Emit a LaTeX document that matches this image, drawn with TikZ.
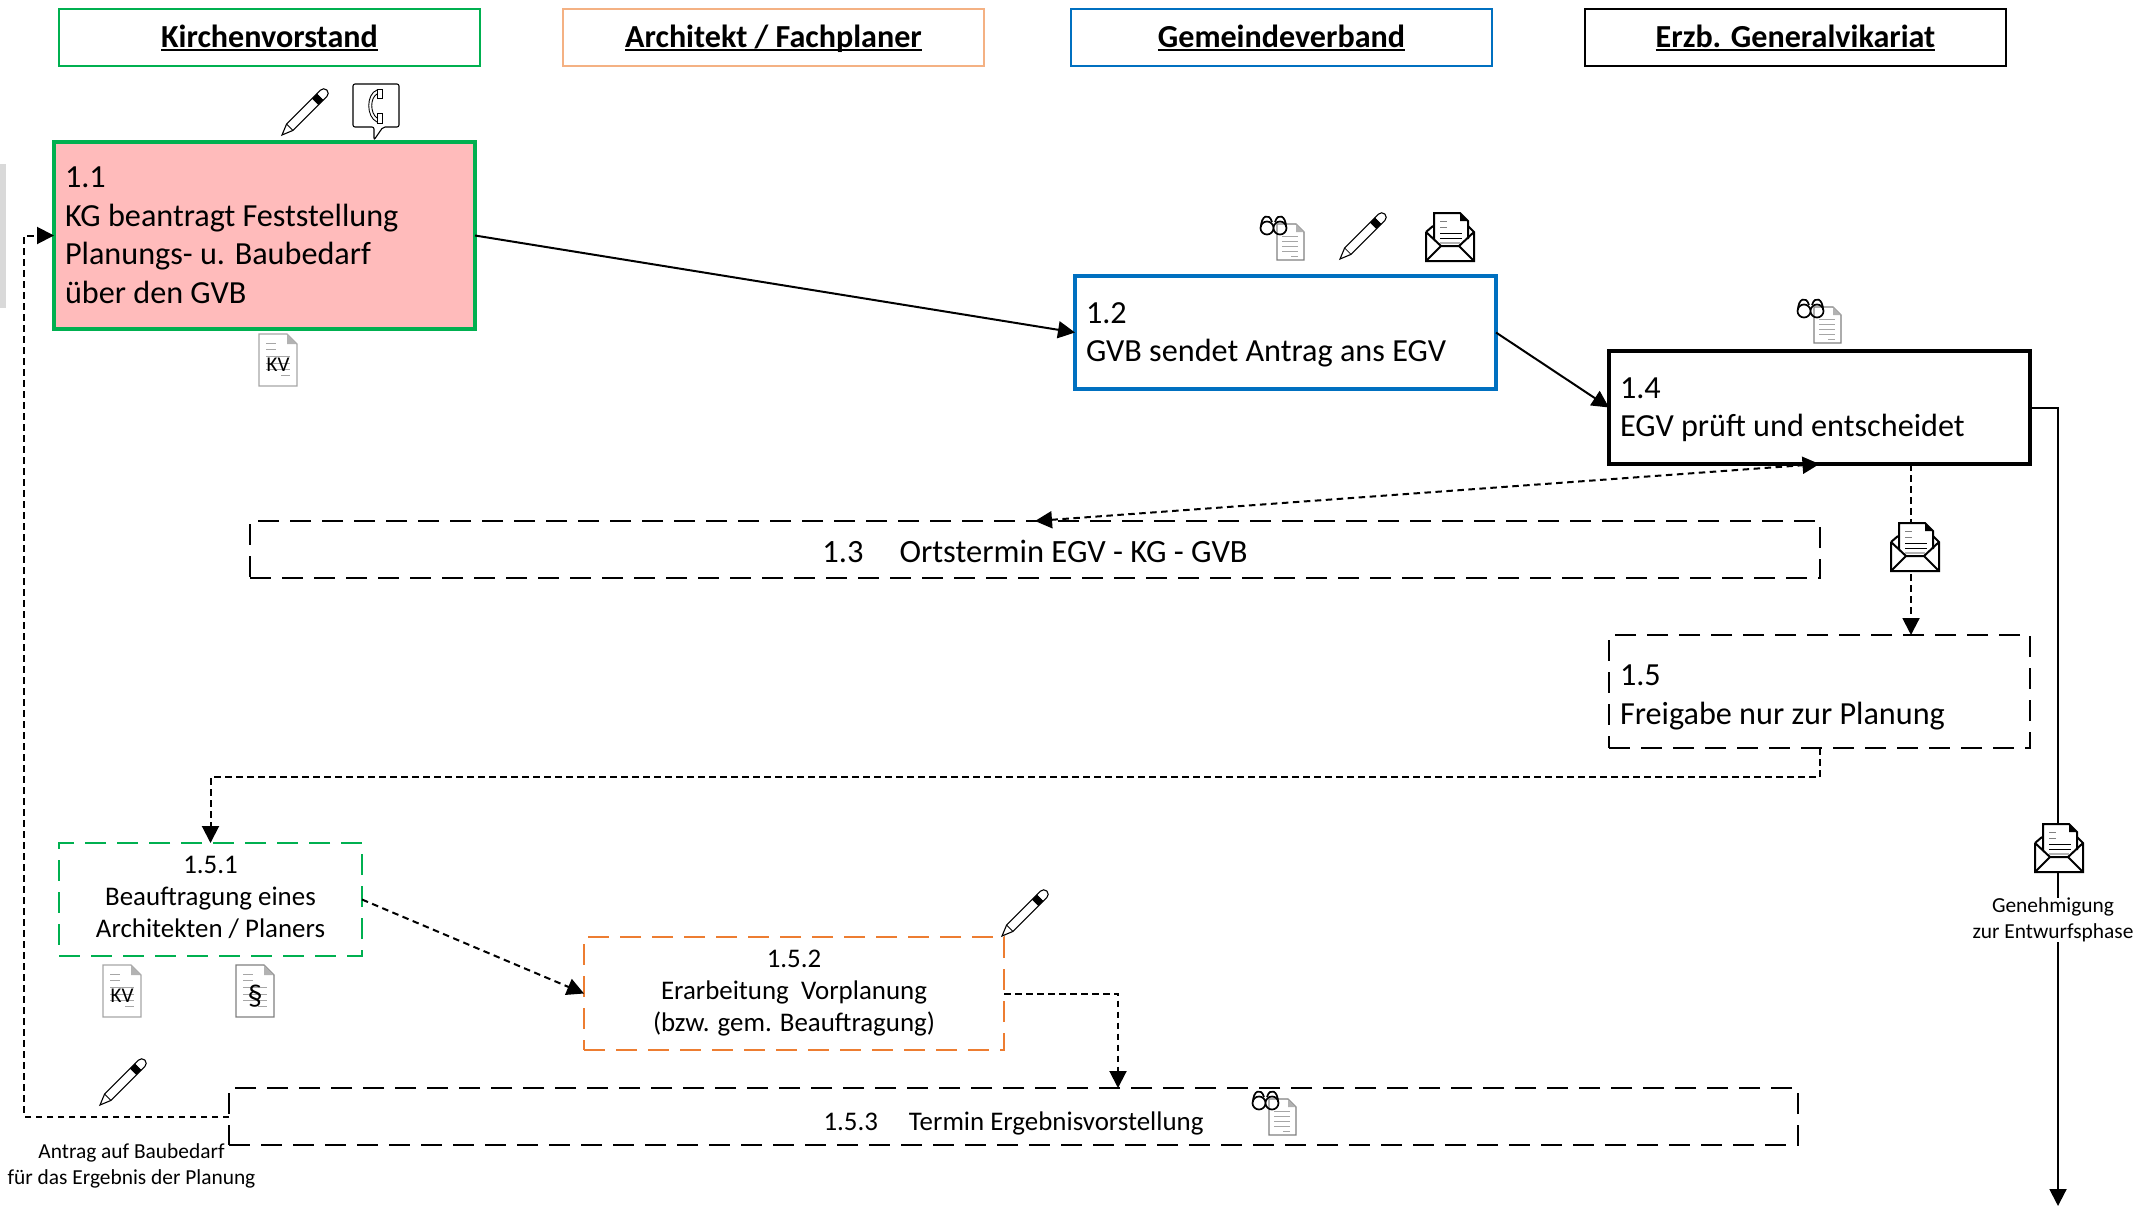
\documentclass[tikz,border=0pt]{standalone}
\usepackage{fontspec}
\setmainfont{Carlito}
\usetikzlibrary{arrows.meta}
\definecolor{kvgreen}{HTML}{00B050}
\definecolor{archorange}{HTML}{F4B183}
\definecolor{planorange}{HTML}{ED7D31}
\definecolor{gvbblue}{HTML}{0070C0}
\definecolor{kvpink}{HTML}{FFBBBB}
\begin{document}
\begin{tikzpicture}[x=1pt,y=-1pt,
    hdrbox/.style={draw,line width=2.5pt,outer sep=0pt,anchor=north west,minimum width=421pt,minimum height=57pt,text height=27pt,text depth=8pt,font=\fontsize{32.1}{38}\selectfont\bfseries},
    vstrut/.style 2 args={execute at begin node={\rule{0pt}{#1}},execute at end node={\rule[-#2]{0pt}{#2}}},
    taskbox/.style={draw,line width=4pt,outer sep=0pt,anchor=north west,minimum width=421pt,minimum height=113pt,inner sep=0pt,text width=399pt,align=flush left,vstrut={27pt}{7pt},font=\fontsize{32.2}{38.5}\selectfont},
    dashbox/.style={draw,line width=2.5pt,dash pattern=on 21pt off 11pt,outer sep=0pt,anchor=north west,inner sep=0pt,align=center,vstrut={34pt}{6pt},font=\fontsize{26.9}{32}\selectfont},
    solidlink/.style={line width=2pt,-{Triangle[length=17pt,width=17pt]}},
    dashlink/.style={line width=2pt,dash pattern=on 6.5pt off 4.5pt,-{Triangle[length=17pt,width=17pt]}},
    iconline/.style={line width=1.1pt,fill=white},
    smalltext/.style={inner sep=0pt,align=center,font=\fontsize{21.4}{26}\selectfont}]
      \useasboundingbox (0,0) rectangle (2134,1208);

      % Underlined header text, with the rule at a fixed distance below the baseline
      \def\hdrText#1{\setbox0=\hbox{#1}\rlap{\vrule height -2.2pt depth 4.4pt width \wd0}\box0}

      % Define the icons, each one at its top left corner
      \def\iconPencil#1{
        \begin{scope}[shift={#1},rotate=45]
          \draw[iconline] (0,0) -- (11,-4.5) -- (54,-4.5) -- (54,4.5) -- (11,4.5) -- cycle;
          \draw[iconline] (54,-4.5) -- (59,-4.5) arc (-90:90:4.5) -- (54,4.5);
          \fill (47,-4.5) rectangle (54,4.5);
          \draw[line width=0.8pt] (11,-4.5) -- (11,4.5);
        \end{scope}
      }
      \def\iconDoc#1#2#3#4{
        \begin{scope}[shift={#2}]
          \draw[line width=1.3pt,draw=#4,fill=white] (0,0) -- (28,0) -- (38,10) -- (38,52) -- (0,52) -- cycle;
          \fill[gray!60] (28,0) -- (38,10) -- (28,10) -- cycle;
          \draw[line width=0.9pt,gray!70] (7,9) -- (17,9) (7,15) -- (17,15) (7,22) -- (31,22) (7,29) -- (31,29) (7,35) -- (31,35) (22,41) -- (31,41);
          \node[inner sep=0pt,font=\fontsize{21}{21}\selectfont] (#1) at (19,31) {#3};
        \end{scope}
      }
      \def\iconGlasses#1{
        \begin{scope}[shift={#1}]
          \draw[line width=1.1pt,draw=gray,fill=white] (0,0) -- (19,0) -- (27,8) -- (27,36) -- (0,36) -- cycle;
          \fill[gray!60] (19,0) -- (27,8) -- (19,8) -- cycle;
          \draw[line width=0.8pt,gray!70] (5,12) -- (21,12) (5,17) -- (21,17) (5,22) -- (21,22) (5,27) -- (21,27) (14,32) -- (21,32);
          \draw[line width=1.7pt] (-10,4) circle (6.5) (3,4) circle (6.5);
          \draw[line width=1.7pt] (-16,3) .. controls (-16,-8) and (-8,-12) .. (-5,-2) (9,3) .. controls (9,-8) and (1,-12) .. (-2,-2);
        \end{scope}
      }
      \def\iconMail#1{
        \begin{scope}[shift={#1}]
          \fill[white] (0,0) rectangle (48,49);
          \draw[line width=2pt,line join=miter] (0,19) -- (0,48) -- (48,48) -- (48,19) -- (42,13);
          \draw[line width=2pt] (0,19) -- (7,13);
          \draw[line width=2pt] (8,26) -- (8,0) -- (34,0) -- (42,8) -- (42,26);
          \fill (34,0) -- (42,8) -- (34,8) -- cycle;
          \draw[line width=2pt] (0,19) -- (15,33) -- (33,33) -- (48,19) (0,48) -- (15,33) (48,48) -- (33,33);
          \draw[line width=0.9pt,gray] (14,8) -- (21,8) (14,14) -- (21,14);
          \draw[line width=0.9pt] (14,20) -- (36,20) (14,25) -- (36,25);
          \draw[line width=1.2pt,gray!60] (14,30) -- (34,30);
        \end{scope}
      }

      % Side mark
      \fill[gray!30] (0,164) rectangle (6,308);

      % Header row
      \node[hdrbox,draw=kvgreen] (hdrKV) at (59,9) {\hdrText{Kirchenvorstand}};
      \node[hdrbox,draw=archorange] (hdrArch) at (563,9) {\hdrText{Architekt / Fachplaner}};
      \node[hdrbox,draw=gvbblue] (hdrGVB) at (1071,9) {\hdrText{Gemeindeverband}};
      \node[hdrbox] (hdrEGV) at (1585,9) {\hdrText{Erzb. Generalvikariat}};

      % Solid task boxes
      \node[taskbox,draw=kvgreen,fill=kvpink,minimum height=187pt] (box11) at (54,142) {1.1\\KG beantragt Feststellung\\Planungs- u. Baubedarf\\über den GVB};
      \node[taskbox,draw=gvbblue] (box12) at (1075,276) {1.2\\GVB sendet Antrag ans EGV};
      \node[taskbox] (box14) at (1609,351) {1.4\\EGV prüft und entscheidet};

      % Dashed task boxes
      \node[dashbox,minimum width=1570pt,minimum height=57pt,vstrut={29pt}{8pt},font=\fontsize{32.5}{38.5}\selectfont] (box13) at (250,521) {1.3\hspace{36pt}Ortstermin EGV - KG - GVB};
      \node[dashbox,minimum width=421pt,minimum height=113pt,text width=399pt,align=flush left,vstrut={27pt}{7pt},font=\fontsize{32.2}{38.5}\selectfont] (box15) at (1609,635) {1.5\\Freigabe nur zur Planung};
      \node[dashbox,draw=kvgreen,minimum width=303pt,minimum height=113pt] (box151) at (59,843) {1.5.1\\Beauftragung eines\\Architekten / Planers};
      \node[dashbox,draw=planorange,minimum width=420pt,minimum height=113pt] (box152) at (584,937) {1.5.2\\Erarbeitung\ \ Vorplanung\\(bzw. gem. Beauftragung)};
      \node[dashbox,minimum width=1569pt,minimum height=57pt,vstrut={25pt}{7pt}] (box153) at (229,1088) {1.5.3\hspace{31pt}Termin Ergebnisvorstellung};

      % Free ends of the connectors
      \coordinate (cFreigabe) at (1911,635);
      \coordinate (cEntwurf) at (2058,1206);
      \coordinate (cTermin) at (1118,1088);
      \coordinate (cRueck) at (24,700);

      % Connectors
      \draw[solidlink] (box11.east) -- (box12.west);
      \draw[solidlink] (box12.east) -- (box14.west);
      \draw[solidlink] (box14.east) -| (cEntwurf);
      \draw[dashlink,{Triangle[length=17pt,width=17pt]}-{Triangle[length=17pt,width=17pt]}] (box13.north) -- (box14.south);
      \draw[dashlink] (cFreigabe |- box14.south) -- (cFreigabe);
      \draw[dashlink] (box15.south) -- ++(0,29) -| (box151.north);
      \draw[dashlink] (box151.east) -- (box152.west);
      \draw[dashlink] (box152.east) -| (cTermin);
      \draw[dashlink] (box153.west) -| (cRueck) |- (box11.west);

      % Labels on the connectors
      \node[smalltext,fill=white] (lblEntwurf) at (2053,920) {Genehmigung\\zur Entwurfsphase};
      \node[smalltext] (lblAntrag) at (131.5,1166) {Antrag auf Baubedarf\\für das Ergebnis der Planung};

      % Telephone bubble
      \draw[iconline,rounded corners=2pt] (353,84) -- (399,84) -- (399,127) -- (383,127) -- (374,140) -- (374,127) -- (353,127) -- cycle;
      \draw[line width=0.9pt] (377,90) .. controls (366,94) and (366,117) .. (377,122) (377,94) .. controls (370,98) and (370,113) .. (377,118);
      \draw[line width=0.9pt,fill=white] (377,89) rectangle (382,98) (377,113) rectangle (382,123);

      % Place the icons
      \iconPencil{(282,135)}
      \iconPencil{(1340,259)}
      \iconPencil{(1002,936)}
      \iconPencil{(100,1105)}
      \iconDoc{docKVa}{(259,334)}{KV}{gray!70}
      \iconDoc{docKVb}{(103,965)}{KV}{gray!70}
      \iconDoc{docPar}{(236,965)}{\fontsize{30}{30}\selectfont\S}{gray}
      \iconGlasses{(1277,224)}
      \iconGlasses{(1814,307)}
      \iconGlasses{(1269,1099)}
      \iconMail{(1426,213)}
      \iconMail{(1891,523)}
      \iconMail{(2035,824)}
    \end{tikzpicture}
\end{document}
